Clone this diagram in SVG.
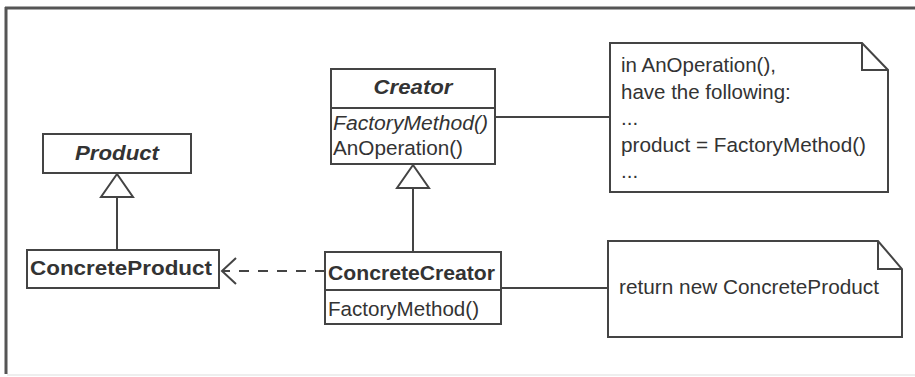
<svg xmlns="http://www.w3.org/2000/svg" width="915" height="377" viewBox="0 0 915 377">
<style>
.box{fill:#fff;stroke:#444;stroke-width:2}
.ln{fill:none;stroke:#444;stroke-width:2}
.t{font-family:"Liberation Sans",Arial,sans-serif;font-size:20.5px;fill:#333}
.b{font-weight:bold}
.i{font-style:italic}
</style>
<rect width="915" height="377" fill="#fff"/>
<g id="frame">
<line x1="5" y1="8" x2="915" y2="8" stroke="#555" stroke-width="3"/>
<line x1="6" y1="7" x2="6" y2="374" stroke="#555" stroke-width="3"/>
<line x1="7" y1="375" x2="915" y2="375" stroke="#ddd" stroke-width="1"/>
</g>
<g id="connectors">
<line class="ln" x1="117" y1="197" x2="117" y2="250"/>
<polygon class="box" points="117,174 101,197 133,197"/>
<line class="ln" x1="413" y1="188" x2="413" y2="252"/>
<polygon class="box" points="413,165 397,188 429,188"/>
<line class="ln" x1="325" y1="271" x2="223" y2="271" stroke-dasharray="10,9"/>
<polyline class="ln" points="236,258 222,271 236,284"/>
<line class="ln" x1="495" y1="117" x2="610" y2="117"/>
<line class="ln" x1="501" y1="288" x2="608" y2="288"/>
</g>
<g id="product">
<rect class="box" x="43" y="134" width="148" height="39"/>
<text class="t b i" x="117" y="160" text-anchor="middle" textLength="84" lengthAdjust="spacingAndGlyphs">Product</text>
</g>
<g id="concreteproduct">
<rect class="box" x="27" y="250" width="192" height="38"/>
<text class="t b" x="30" y="275" textLength="182" lengthAdjust="spacingAndGlyphs">ConcreteProduct</text>
</g>
<g id="creator">
<rect class="box" x="331" y="69" width="164" height="95"/>
<line class="ln" x1="331" y1="108" x2="495" y2="108"/>
<text class="t b i" x="413" y="94" text-anchor="middle" textLength="79" lengthAdjust="spacingAndGlyphs">Creator</text>
<text class="t i" x="333" y="130" textLength="155" lengthAdjust="spacingAndGlyphs">FactoryMethod()</text>
<text class="t" x="333" y="155" textLength="130" lengthAdjust="spacingAndGlyphs">AnOperation()</text>
</g>
<g id="concretecreator">
<rect class="box" x="325" y="252" width="176" height="72"/>
<line class="ln" x1="325" y1="290" x2="501" y2="290"/>
<text class="t b" x="328" y="280" textLength="167" lengthAdjust="spacingAndGlyphs">ConcreteCreator</text>
<text class="t" x="328" y="316" textLength="151" lengthAdjust="spacingAndGlyphs">FactoryMethod()</text>
</g>
<g id="note1">
<path class="box" d="M610,43 H862 L888,70 V192 H610 Z"/>
<path class="ln" d="M862,43 V70 H888"/>
<text class="t" x="621" y="72">in AnOperation(),</text>
<text class="t" x="621" y="99">have the following:</text>
<text class="t" x="621" y="125">...</text>
<text class="t" x="621" y="152" textLength="245" lengthAdjust="spacingAndGlyphs">product = FactoryMethod()</text>
<text class="t" x="621" y="178">...</text>
</g>
<g id="note2">
<path class="box" d="M608,241 H878 L902,269 V337 H608 Z"/>
<path class="ln" d="M878,241 V269 H902"/>
<text class="t" x="619" y="294" textLength="260" lengthAdjust="spacingAndGlyphs">return new ConcreteProduct</text>
</g>
</svg>
